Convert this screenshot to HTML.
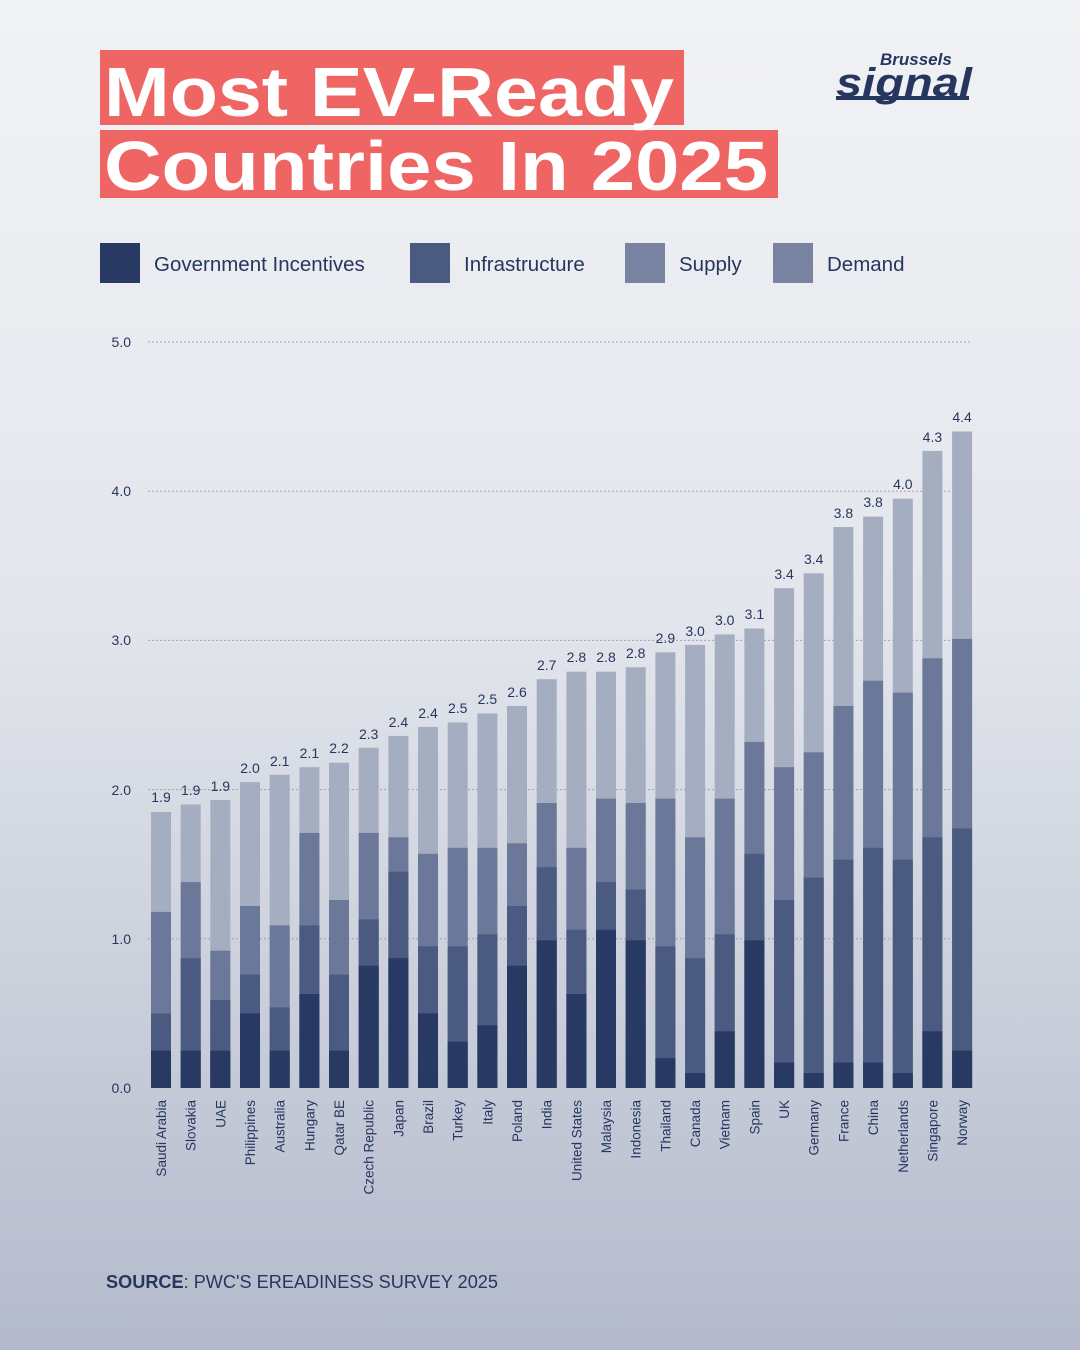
<!DOCTYPE html>
<html><head><meta charset="utf-8">
<style>
html,body{margin:0;padding:0}
body{width:1080px;height:1350px;overflow:hidden;background:linear-gradient(180deg,#f1f2f5 0%,#e3e6ec 45%,#b3bacb 100%);font-family:"Liberation Sans",sans-serif}
</style></head><body>
<svg width="1080" height="1350" viewBox="0 0 1080 1350" xmlns="http://www.w3.org/2000/svg" style="position:absolute;left:0;top:0">
<rect x="100" y="50" width="584" height="75" fill="#ee6563"/>
<rect x="100" y="130" width="678" height="68" fill="#ee6563"/>
<text x="104" y="116" font-size="70" font-weight="bold" fill="#fff" font-family="Liberation Sans,sans-serif" textLength="570" lengthAdjust="spacingAndGlyphs">Most EV-Ready</text>
<text x="104" y="190" font-size="70" font-weight="bold" fill="#fff" font-family="Liberation Sans,sans-serif" textLength="664" lengthAdjust="spacingAndGlyphs">Countries In 2025</text>
<text x="880" y="65" font-size="17" font-weight="bold" font-style="italic" fill="#27365f">Brussels</text>
<text x="836" y="96" font-size="40" font-weight="bold" font-style="italic" fill="#27365f" textLength="136" lengthAdjust="spacingAndGlyphs">signal</text>
<rect x="836" y="96" width="133" height="4" fill="#27365f"/>
<g font-size="20.5" fill="#27365f">
<rect x="100" y="243" width="40" height="40" fill="#283a63"/><text x="154" y="271">Government Incentives</text>
<rect x="410" y="243" width="40" height="40" fill="#4a5a80"/><text x="464" y="271">Infrastructure</text>
<rect x="625" y="243" width="40" height="40" fill="#7883a1"/><text x="679" y="271">Supply</text>
<rect x="773" y="243" width="40" height="40" fill="#7883a1"/><text x="827" y="271">Demand</text>
</g>
<g stroke="#9aa2b5" stroke-width="1" stroke-dasharray="2,2">
<line x1="148" x2="972" y1="342" y2="342"/><line x1="148" x2="972" y1="491.2" y2="491.2"/><line x1="148" x2="972" y1="640.4" y2="640.4"/><line x1="148" x2="972" y1="789.6" y2="789.6"/><line x1="148" x2="972" y1="938.8" y2="938.8"/>
</g>
<g font-size="14" fill="#27365f" text-anchor="end">
<text x="131" y="347">5.0</text><text x="131" y="496">4.0</text><text x="131" y="645">3.0</text><text x="131" y="795">2.0</text><text x="131" y="944">1.0</text><text x="131" y="1093">0.0</text>
</g>
<g>
<g transform="translate(151,0)"><rect y="812" width="20" height="276" fill="#a5adc1"/><rect y="911.9" width="20" height="176.1" fill="#6b7899"/><rect y="1013.4" width="20" height="74.6" fill="#4a5a80"/><rect y="1050.7" width="20" height="37.3" fill="#283a63"/></g>
<g transform="translate(180.7,0)"><rect y="804.5" width="20" height="283.5" fill="#a5adc1"/><rect y="882.1" width="20" height="205.9" fill="#6b7899"/><rect y="958.2" width="20" height="129.8" fill="#4a5a80"/><rect y="1050.7" width="20" height="37.3" fill="#283a63"/></g>
<g transform="translate(210.3,0)"><rect y="800" width="20" height="288" fill="#a5adc1"/><rect y="950.7" width="20" height="137.3" fill="#6b7899"/><rect y="1000" width="20" height="88" fill="#4a5a80"/><rect y="1050.7" width="20" height="37.3" fill="#283a63"/></g>
<g transform="translate(240,0)"><rect y="782.1" width="20" height="305.9" fill="#a5adc1"/><rect y="906" width="20" height="182" fill="#6b7899"/><rect y="974.6" width="20" height="113.4" fill="#4a5a80"/><rect y="1013.4" width="20" height="74.6" fill="#283a63"/></g>
<g transform="translate(269.7,0)"><rect y="774.7" width="20" height="313.3" fill="#a5adc1"/><rect y="925.4" width="20" height="162.6" fill="#6b7899"/><rect y="1007.4" width="20" height="80.6" fill="#4a5a80"/><rect y="1050.7" width="20" height="37.3" fill="#283a63"/></g>
<g transform="translate(299.4,0)"><rect y="767.2" width="20" height="320.8" fill="#a5adc1"/><rect y="832.9" width="20" height="255.1" fill="#6b7899"/><rect y="925.4" width="20" height="162.6" fill="#4a5a80"/><rect y="994" width="20" height="94" fill="#283a63"/></g>
<g transform="translate(329,0)"><rect y="762.7" width="20" height="325.3" fill="#a5adc1"/><rect y="900" width="20" height="188" fill="#6b7899"/><rect y="974.6" width="20" height="113.4" fill="#4a5a80"/><rect y="1050.7" width="20" height="37.3" fill="#283a63"/></g>
<g transform="translate(358.7,0)"><rect y="747.8" width="20" height="340.2" fill="#a5adc1"/><rect y="832.9" width="20" height="255.1" fill="#6b7899"/><rect y="919.4" width="20" height="168.6" fill="#4a5a80"/><rect y="965.7" width="20" height="122.3" fill="#283a63"/></g>
<g transform="translate(388.4,0)"><rect y="735.9" width="20" height="352.1" fill="#a5adc1"/><rect y="837.3" width="20" height="250.7" fill="#6b7899"/><rect y="871.7" width="20" height="216.3" fill="#4a5a80"/><rect y="958.2" width="20" height="129.8" fill="#283a63"/></g>
<g transform="translate(418,0)"><rect y="726.9" width="20" height="361.1" fill="#a5adc1"/><rect y="853.8" width="20" height="234.2" fill="#6b7899"/><rect y="946.3" width="20" height="141.7" fill="#4a5a80"/><rect y="1013.4" width="20" height="74.6" fill="#283a63"/></g>
<g transform="translate(447.7,0)"><rect y="722.5" width="20" height="365.5" fill="#a5adc1"/><rect y="847.8" width="20" height="240.2" fill="#6b7899"/><rect y="946.3" width="20" height="141.7" fill="#4a5a80"/><rect y="1041.7" width="20" height="46.3" fill="#283a63"/></g>
<g transform="translate(477.4,0)"><rect y="713.5" width="20" height="374.5" fill="#a5adc1"/><rect y="847.8" width="20" height="240.2" fill="#6b7899"/><rect y="934.3" width="20" height="153.7" fill="#4a5a80"/><rect y="1025.3" width="20" height="62.7" fill="#283a63"/></g>
<g transform="translate(507,0)"><rect y="706" width="20" height="382" fill="#a5adc1"/><rect y="843.3" width="20" height="244.7" fill="#6b7899"/><rect y="906" width="20" height="182" fill="#4a5a80"/><rect y="965.7" width="20" height="122.3" fill="#283a63"/></g>
<g transform="translate(536.7,0)"><rect y="679.2" width="20" height="408.8" fill="#a5adc1"/><rect y="803" width="20" height="285" fill="#6b7899"/><rect y="867.2" width="20" height="220.8" fill="#4a5a80"/><rect y="940.3" width="20" height="147.7" fill="#283a63"/></g>
<g transform="translate(566.4,0)"><rect y="671.7" width="20" height="416.3" fill="#a5adc1"/><rect y="847.8" width="20" height="240.2" fill="#6b7899"/><rect y="929.8" width="20" height="158.2" fill="#4a5a80"/><rect y="994" width="20" height="94" fill="#283a63"/></g>
<g transform="translate(596,0)"><rect y="671.7" width="20" height="416.3" fill="#a5adc1"/><rect y="798.6" width="20" height="289.4" fill="#6b7899"/><rect y="882.1" width="20" height="205.9" fill="#4a5a80"/><rect y="929.8" width="20" height="158.2" fill="#283a63"/></g>
<g transform="translate(625.7,0)"><rect y="667.3" width="20" height="420.7" fill="#a5adc1"/><rect y="803" width="20" height="285" fill="#6b7899"/><rect y="889.6" width="20" height="198.4" fill="#4a5a80"/><rect y="940.3" width="20" height="147.7" fill="#283a63"/></g>
<g transform="translate(655.4,0)"><rect y="652.3" width="20" height="435.7" fill="#a5adc1"/><rect y="798.6" width="20" height="289.4" fill="#6b7899"/><rect y="946.3" width="20" height="141.7" fill="#4a5a80"/><rect y="1058.2" width="20" height="29.8" fill="#283a63"/></g>
<g transform="translate(685.1,0)"><rect y="644.9" width="20" height="443.1" fill="#a5adc1"/><rect y="837.3" width="20" height="250.7" fill="#6b7899"/><rect y="958.2" width="20" height="129.8" fill="#4a5a80"/><rect y="1073.1" width="20" height="14.9" fill="#283a63"/></g>
<g transform="translate(714.7,0)"><rect y="634.4" width="20" height="453.6" fill="#a5adc1"/><rect y="798.6" width="20" height="289.4" fill="#6b7899"/><rect y="934.3" width="20" height="153.7" fill="#4a5a80"/><rect y="1031.3" width="20" height="56.7" fill="#283a63"/></g>
<g transform="translate(744.4,0)"><rect y="628.5" width="20" height="459.5" fill="#a5adc1"/><rect y="741.9" width="20" height="346.1" fill="#6b7899"/><rect y="853.8" width="20" height="234.2" fill="#4a5a80"/><rect y="940.3" width="20" height="147.7" fill="#283a63"/></g>
<g transform="translate(774.1,0)"><rect y="588.2" width="20" height="499.8" fill="#a5adc1"/><rect y="767.2" width="20" height="320.8" fill="#6b7899"/><rect y="900" width="20" height="188" fill="#4a5a80"/><rect y="1062.6" width="20" height="25.4" fill="#283a63"/></g>
<g transform="translate(803.7,0)"><rect y="573.3" width="20" height="514.7" fill="#a5adc1"/><rect y="752.3" width="20" height="335.7" fill="#6b7899"/><rect y="877.6" width="20" height="210.4" fill="#4a5a80"/><rect y="1073.1" width="20" height="14.9" fill="#283a63"/></g>
<g transform="translate(833.4,0)"><rect y="527" width="20" height="561" fill="#a5adc1"/><rect y="706" width="20" height="382" fill="#6b7899"/><rect y="859.7" width="20" height="228.3" fill="#4a5a80"/><rect y="1062.6" width="20" height="25.4" fill="#283a63"/></g>
<g transform="translate(863.1,0)"><rect y="516.6" width="20" height="571.4" fill="#a5adc1"/><rect y="680.7" width="20" height="407.3" fill="#6b7899"/><rect y="847.8" width="20" height="240.2" fill="#4a5a80"/><rect y="1062.6" width="20" height="25.4" fill="#283a63"/></g>
<g transform="translate(892.8,0)"><rect y="498.7" width="20" height="589.3" fill="#a5adc1"/><rect y="692.6" width="20" height="395.4" fill="#6b7899"/><rect y="859.7" width="20" height="228.3" fill="#4a5a80"/><rect y="1073.1" width="20" height="14.9" fill="#283a63"/></g>
<g transform="translate(922.4,0)"><rect y="450.9" width="20" height="637.1" fill="#a5adc1"/><rect y="658.3" width="20" height="429.7" fill="#6b7899"/><rect y="837.3" width="20" height="250.7" fill="#4a5a80"/><rect y="1031.3" width="20" height="56.7" fill="#283a63"/></g>
<g transform="translate(952.1,0)"><rect y="431.5" width="20" height="656.5" fill="#a5adc1"/><rect y="638.9" width="20" height="449.1" fill="#6b7899"/><rect y="828.4" width="20" height="259.6" fill="#4a5a80"/><rect y="1050.7" width="20" height="37.3" fill="#283a63"/></g>
</g>
<g font-size="14" fill="#27365f" text-anchor="middle">
<text x="161" y="802">1.9</text><text x="190.7" y="795">1.9</text><text x="220.3" y="791">1.9</text><text x="250" y="773">2.0</text><text x="279.7" y="766">2.1</text><text x="309.4" y="758">2.1</text><text x="339" y="753">2.2</text><text x="368.7" y="739">2.3</text><text x="398.4" y="727">2.4</text><text x="428" y="718">2.4</text><text x="457.7" y="713">2.5</text><text x="487.4" y="704">2.5</text><text x="517" y="697">2.6</text><text x="546.7" y="670">2.7</text><text x="576.4" y="662">2.8</text><text x="606" y="662">2.8</text><text x="635.7" y="658">2.8</text><text x="665.4" y="643">2.9</text><text x="695.1" y="636">3.0</text><text x="724.7" y="625">3.0</text><text x="754.4" y="619">3.1</text><text x="784.1" y="579">3.4</text><text x="813.7" y="564">3.4</text><text x="843.4" y="518">3.8</text><text x="873.1" y="507">3.8</text><text x="902.8" y="489">4.0</text><text x="932.4" y="442">4.3</text><text x="962.1" y="422">4.4</text>
</g>
<g font-size="13.5" fill="#27365f" text-anchor="end">
<text transform="translate(166,1100) rotate(-90)">Saudi Arabia</text>
<text transform="translate(195.7,1100) rotate(-90)">Slovakia</text>
<text transform="translate(225.3,1100) rotate(-90)">UAE</text>
<text transform="translate(255,1100) rotate(-90)">Philippines</text>
<text transform="translate(284.7,1100) rotate(-90)">Australia</text>
<text transform="translate(314.4,1100) rotate(-90)">Hungary</text>
<text transform="translate(344,1100) rotate(-90)">Qatar BE</text>
<text transform="translate(373.7,1100) rotate(-90)">Czech Republic</text>
<text transform="translate(403.4,1100) rotate(-90)">Japan</text>
<text transform="translate(433,1100) rotate(-90)">Brazil</text>
<text transform="translate(462.7,1100) rotate(-90)">Turkey</text>
<text transform="translate(492.4,1100) rotate(-90)">Italy</text>
<text transform="translate(522,1100) rotate(-90)">Poland</text>
<text transform="translate(551.7,1100) rotate(-90)">India</text>
<text transform="translate(581.4,1100) rotate(-90)">United States</text>
<text transform="translate(611,1100) rotate(-90)">Malaysia</text>
<text transform="translate(640.7,1100) rotate(-90)">Indonesia</text>
<text transform="translate(670.4,1100) rotate(-90)">Thailand</text>
<text transform="translate(700.1,1100) rotate(-90)">Canada</text>
<text transform="translate(729.7,1100) rotate(-90)">Vietnam</text>
<text transform="translate(759.4,1100) rotate(-90)">Spain</text>
<text transform="translate(789.1,1100) rotate(-90)">UK</text>
<text transform="translate(818.7,1100) rotate(-90)">Germany</text>
<text transform="translate(848.4,1100) rotate(-90)">France</text>
<text transform="translate(878.1,1100) rotate(-90)">China</text>
<text transform="translate(907.8,1100) rotate(-90)">Netherlands</text>
<text transform="translate(937.4,1100) rotate(-90)">Singapore</text>
<text transform="translate(967.1,1100) rotate(-90)">Norway</text>
</g>
<text x="106" y="1288" font-size="18.5" fill="#27365f" textLength="392" lengthAdjust="spacingAndGlyphs"><tspan font-weight="bold">SOURCE</tspan>: PWC'S EREADINESS SURVEY 2025</text>
</svg>
</body></html>
